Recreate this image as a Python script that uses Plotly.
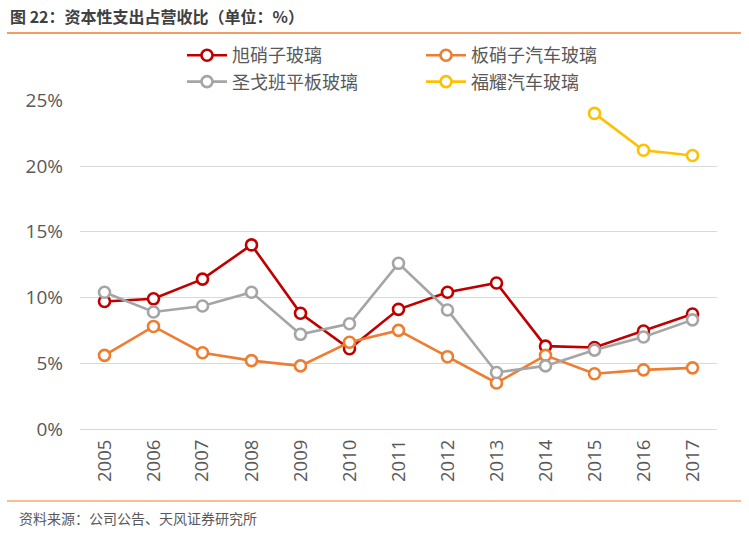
import plotly.graph_objects as go

years = ["2005", "2006", "2007", "2008", "2009", "2010", "2011", "2012", "2013", "2014", "2015", "2016", "2017"]
asahi = [9.7, 9.9, 11.4, 14.0, 8.8, 6.1, 9.1, 10.4, 11.1, 6.3, 6.2, 7.45, 8.75]
nsg = [5.6, 7.8, 5.8, 5.2, 4.8, 6.6, 7.5, 5.5, 3.5, 5.6, 4.2, 4.5, 4.65]
saint = [10.4, 8.9, 9.35, 10.4, 7.2, 8.0, 12.6, 9.05, 4.3, 4.8, 6.0, 7.0, 8.3]
fuyao = [None] * 10 + [24.0, 21.2, 20.8]

names = ["旭硝子玻璃", "板硝子汽车玻璃", "圣戈班平板玻璃", "福耀汽车玻璃"]
colors = ["#C00000", "#ED7D31", "#A5A5A5", "#FFC000"]
series = [asahi, nsg, saint, fuyao]

font_cjk = "Noto Sans CJK SC"
fig = go.Figure()
for n, c, s in zip(names, colors, series):
    fig.add_trace(go.Scatter(
        x=years, y=s, name=n, mode="lines+markers",
        line=dict(color=c, width=2.6),
        marker=dict(symbol="circle", size=11, color="white", line=dict(color=c, width=2.6)),
        connectgaps=False,
    ))

L, R, T, B = 80, 32, 100, 108
W, H = 749, 537
pw, ph = W - L - R, H - T - B

def px(x):
    return (x - L) / pw

def py(y):
    return (H - B - y) / ph

fig.update_layout(
    width=W, height=H,
    margin=dict(l=L, r=R, t=T, b=B, autoexpand=False),
    paper_bgcolor="white", plot_bgcolor="white",
    font=dict(family=font_cjk, color="#595959", size=18),
    showlegend=True,
    legend=dict(
        orientation="h", xref="container", yref="container",
        x=182 / W, y=1 - 37 / H, xanchor="left", yanchor="top",
        entrywidth=184, entrywidthmode="pixels",
        font=dict(family=font_cjk, size=18, color="#595959"),
        itemwidth=40,
        bgcolor="rgba(0,0,0,0)",
    ),
    xaxis=dict(
        type="category", range=[-0.5, len(years) - 0.5],
        tickangle=-90, showgrid=False, showline=False,
        ticks="", ticklabelstandoff=6,
        tickfont=dict(family="Open Sans", size=18.5, color="#595959"),
    ),
    yaxis=dict(
        range=[0, 25.02], dtick=5, tick0=0, ticksuffix="%",
        showgrid=True, gridcolor="#D9D9D9", gridwidth=1.3,
        zeroline=True, zerolinecolor="#D9D9D9", zerolinewidth=1.3,
        showline=False, ticks="", ticklabelstandoff=16,
        tickfont=dict(family="Open Sans", size=19, color="#595959"),
    ),
)

fig.add_shape(type="line", xref="paper", yref="paper",
              x0=px(7), x1=px(741), y0=py(33), y1=py(33),
              line=dict(color="#ED7D31", width=1.5))
fig.add_shape(type="line", xref="paper", yref="paper",
              x0=px(7), x1=px(741), y0=py(501), y1=py(501),
              line=dict(color="#ED7D31", width=1.2))

fig.add_annotation(text="<b>图 22：资本性支出占营收比（单位：%）</b>",
                   xref="paper", yref="paper", x=px(8), y=py(16),
                   xanchor="left", yanchor="middle", showarrow=False,
                   font=dict(family=font_cjk, size=16, color="#404040"))
fig.add_annotation(text="资料来源：公司公告、天风证券研究所",
                   xref="paper", yref="paper", x=px(17), y=py(518),
                   xanchor="left", yanchor="middle", showarrow=False,
                   font=dict(family=font_cjk, size=14, color="#595959"))

fig.write_html("out.html")
